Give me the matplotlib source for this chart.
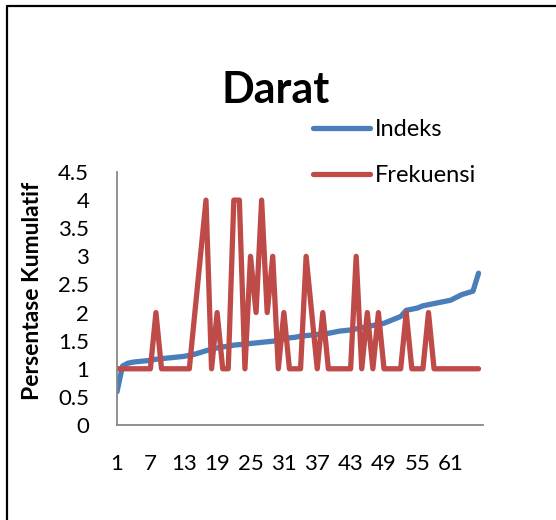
import matplotlib
matplotlib.use("Agg")
import matplotlib.pyplot as plt
from matplotlib.lines import Line2D

plt.rcParams['font.family'] = ['Lato', 'DejaVu Sans']

# data
indeks = [0.59, 1.05, 1.10, 1.12, 1.13, 1.14, 1.15, 1.17, 1.18, 1.19,
          1.20, 1.21, 1.22, 1.24, 1.26, 1.29, 1.32, 1.35, 1.37, 1.39,
          1.40, 1.42, 1.43, 1.44, 1.45, 1.46, 1.47, 1.48, 1.49, 1.51,
          1.53, 1.55, 1.56, 1.58, 1.59, 1.60, 1.61, 1.62, 1.63, 1.65,
          1.67, 1.68, 1.69, 1.71, 1.73, 1.75, 1.77, 1.79, 1.81, 1.85,
          1.89, 1.93, 2.04, 2.06, 2.08, 2.12, 2.14, 2.16, 2.18, 2.20,
          2.22, 2.27, 2.32, 2.35, 2.38, 2.70]
frekuensi = [1, 1, 1, 1, 1, 1, 1, 2, 1, 1,
             1, 1, 1, 1, 2, 3, 4, 1, 2, 1,
             1, 4, 4, 1, 3, 2, 4, 2, 3, 1,
             2, 1, 1, 1, 3, 2, 1, 2, 1, 1,
             1, 1, 1, 3, 1, 2, 1, 2, 1, 1,
             1, 1, 2, 1, 1, 1, 2, 1, 1, 1,
             1, 1, 1, 1, 1, 1]
x = list(range(1, len(indeks) + 1))
xticks = list(range(1, 62, 6))
yticks = [0, 0.5, 1, 1.5, 2, 2.5, 3, 3.5, 4, 4.5]
ytick_labels = ['0', '0.5', '1', '1.5', '2', '2.5', '3', '3.5', '4', '4.5']

W, H = 556, 520
fig = plt.figure(figsize=(W / 100, H / 100), dpi=100)
ax = fig.add_axes([117 / W, 1 - 425 / H, (483 - 117) / W, (425 - 172) / H])

lw = 3.8
ax.plot(x, indeks, color='#4A7EBB', lw=lw, solid_joinstyle='round', solid_capstyle='round', label='Indeks')
ax.plot(x, frekuensi, color='#BE4B48', lw=lw, solid_joinstyle='round', solid_capstyle='round', label='Frekuensi')

ax.set_xlim(1, 66.8)
ax.set_ylim(0, 4.5)
ax.set_xticks(xticks)
ax.set_xticklabels([str(t) for t in xticks])
ax.set_yticks(yticks)
ax.set_yticklabels(ytick_labels)
ax.tick_params(axis='both', length=0, labelsize=16)
ax.tick_params(axis='x', pad=21)
ax.tick_params(axis='y', pad=20)
for s in ['top', 'right']:
    ax.spines[s].set_visible(False)
for s in ['left', 'bottom']:
    ax.spines[s].set_color('#888888')
    ax.spines[s].set_linewidth(1.3)

fig.text(276 / W, 1 - 90 / H, 'Darat', ha='center', va='center', fontsize=31, fontweight='bold')
fig.text(33 / W, 1 - 291 / H, 'Persentase Kumulatif', ha='center', va='center',
         rotation=90, fontsize=16.5, fontweight='bold')

ax.legend(loc='upper left', bbox_to_anchor=(313 / W, 1 - 119 / H), bbox_transform=fig.transFigure,
          frameon=False, fontsize=17, handlelength=2.4, handletextpad=0.2, labelspacing=1.05,
          borderpad=0, borderaxespad=0)

# outer chart border (only left and top edges visible)
fig.add_artist(Line2D([7 / W, 7 / W, 1], [0, 1 - 6 / H, 1 - 6 / H], transform=fig.transFigure,
                      color='black', lw=1.6))

fig.savefig('out.png', dpi=100)
